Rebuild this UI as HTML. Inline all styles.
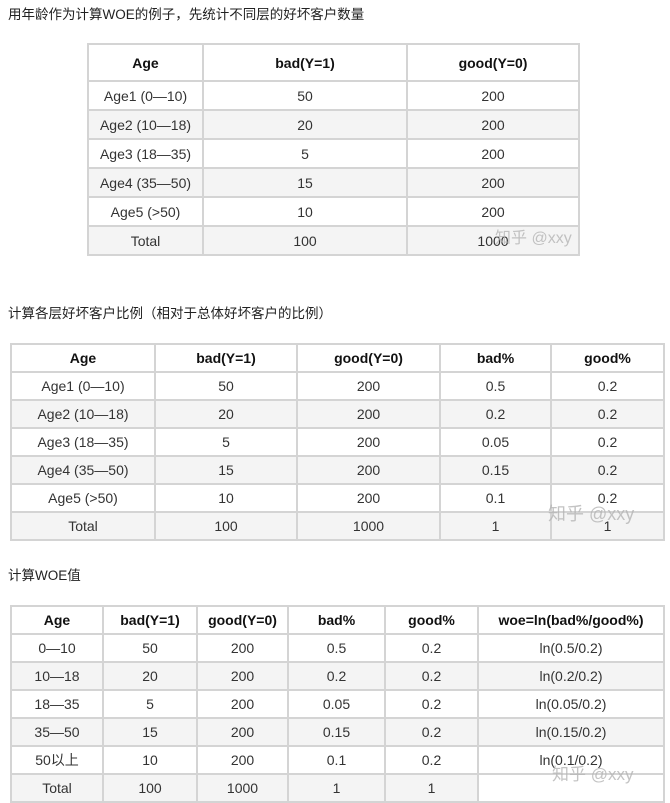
<!DOCTYPE html>
<html><head><meta charset="utf-8"><style>
body{margin:0;width:670px;height:800px;background:#fff;position:relative;overflow:hidden;font-family:"Liberation Sans","Noto Sans CJK SC",sans-serif;color:#222}
.cap{position:absolute;left:8px;font-size:13.5px;color:#222}
table{position:absolute;border-collapse:collapse;font-size:14px;table-layout:fixed}
td,th{border:2px solid #d4d4d4;text-align:center;padding:0;color:#333;font-weight:normal}
th{font-weight:bold;color:#111}
tr.g td{background:#f4f4f4}
.wm{position:absolute;color:rgba(180,180,180,.8);font-size:16px}
</style></head><body>
<div class="cap" style="top:3px">用年龄作为计算WOE的例子，先统计不同层的好坏客户数量</div>
<table style="left:87px;top:43px;width:491px">
<colgroup><col style="width:115px"><col style="width:204px"><col style="width:172px"></colgroup>
<tr style="height:37px"><th>Age</th><th>bad(Y=1)</th><th>good(Y=0)</th></tr>
<tr style="height:29px"><td>Age1 (0—10)</td><td>50</td><td>200</td></tr>
<tr class="g" style="height:29px"><td>Age2 (10—18)</td><td>20</td><td>200</td></tr>
<tr style="height:29px"><td>Age3 (18—35)</td><td>5</td><td>200</td></tr>
<tr class="g" style="height:29px"><td>Age4 (35—50)</td><td>15</td><td>200</td></tr>
<tr style="height:29px"><td>Age5 (&gt;50)</td><td>10</td><td>200</td></tr>
<tr class="g" style="height:29px"><td>Total</td><td>100</td><td>1000</td></tr>
</table>
<div class="wm" style="left:495px;top:224px">知乎 @xxy</div>

<div class="cap" style="top:302px">计算各层好坏客户比例（相对于总体好坏客户的比例）</div>
<table style="left:10px;top:343px;width:653px">
<colgroup><col style="width:144px"><col style="width:142px"><col style="width:143px"><col style="width:111px"><col style="width:113px"></colgroup>
<tr style="height:28px"><th>Age</th><th>bad(Y=1)</th><th>good(Y=0)</th><th>bad%</th><th>good%</th></tr>
<tr style="height:28px"><td>Age1 (0—10)</td><td>50</td><td>200</td><td>0.5</td><td>0.2</td></tr>
<tr class="g" style="height:28px"><td>Age2 (10—18)</td><td>20</td><td>200</td><td>0.2</td><td>0.2</td></tr>
<tr style="height:28px"><td>Age3 (18—35)</td><td>5</td><td>200</td><td>0.05</td><td>0.2</td></tr>
<tr class="g" style="height:28px"><td>Age4 (35—50)</td><td>15</td><td>200</td><td>0.15</td><td>0.2</td></tr>
<tr style="height:28px"><td>Age5 (&gt;50)</td><td>10</td><td>200</td><td>0.1</td><td>0.2</td></tr>
<tr class="g" style="height:28px"><td>Total</td><td>100</td><td>1000</td><td>1</td><td>1</td></tr>
</table>
<div class="wm" style="left:548px;top:500px;font-size:18px">知乎 @xxy</div>

<div class="cap" style="top:564px">计算WOE值</div>
<table style="left:10px;top:605px;width:653px">
<colgroup><col style="width:92px"><col style="width:94px"><col style="width:91px"><col style="width:97px"><col style="width:93px"><col style="width:186px"></colgroup>
<tr style="height:28px"><th>Age</th><th>bad(Y=1)</th><th>good(Y=0)</th><th>bad%</th><th>good%</th><th>woe=ln(bad%/good%)</th></tr>
<tr style="height:28px"><td>0—10</td><td>50</td><td>200</td><td>0.5</td><td>0.2</td><td>ln(0.5/0.2)</td></tr>
<tr class="g" style="height:28px"><td>10—18</td><td>20</td><td>200</td><td>0.2</td><td>0.2</td><td>ln(0.2/0.2)</td></tr>
<tr style="height:28px"><td>18—35</td><td>5</td><td>200</td><td>0.05</td><td>0.2</td><td>ln(0.05/0.2)</td></tr>
<tr class="g" style="height:28px"><td>35—50</td><td>15</td><td>200</td><td>0.15</td><td>0.2</td><td>ln(0.15/0.2)</td></tr>
<tr style="height:28px"><td>50以上</td><td>10</td><td>200</td><td>0.1</td><td>0.2</td><td>ln(0.1/0.2)</td></tr>
<tr class="g" style="height:28px"><td>Total</td><td>100</td><td>1000</td><td>1</td><td>1</td><td style="background:#fff"></td></tr>
</table>
<div class="wm" style="left:552px;top:760px;font-size:17px">知乎 @xxy</div>
</body></html>
